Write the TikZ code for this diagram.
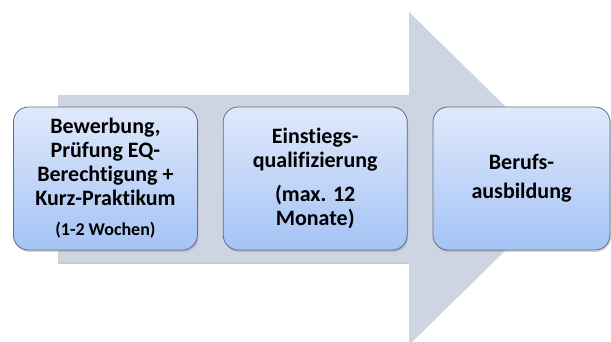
\documentclass[tikz,border=0pt]{standalone}
\usepackage{fontspec}
\setmainfont{Carlito}[Ligatures=NoCommon]
\usepackage{tikz}
\usetikzlibrary{positioning,shadows,calc}
\definecolor{arrowgrey}{HTML}{CDD4E2}
\definecolor{boxtop}{HTML}{DFE9FB}
\definecolor{boxbottom}{HTML}{A5C3F5}
\definecolor{boxline}{HTML}{5F6F85}

\begin{document}
\begin{tikzpicture}[x=1pt,y=1pt,
    stepbox/.style={draw=boxline, line width=0.8pt, rounded corners=15pt,
                    top color=boxtop, bottom color=boxbottom,
                    minimum width=184pt, minimum height=143pt,
                    align=center, inner sep=2pt,
                    font=\fontsize{22}{24}\selectfont\bfseries,
                    drop shadow={opacity=0.35, shadow xshift=1pt, shadow yshift=-2pt}},
    node distance=25pt]
  \useasboundingbox (0,0) rectangle (611,342);
  % big background arrow
  \fill[black!35, opacity=0.6] (58,78) rectangle (409,82);   % shadow under body
  \fill[arrowgrey] (58,80) -- (409,80) -- (409,-3) -- (579,163.5)
        -- (409,330) -- (409,247) -- (58,247) -- cycle;
  % the three steps
  \node[stepbox, anchor=west] (bewerbung) at (13,163.5)
    {Bewerbung,\\Prüfung EQ-\\Berechtigung +\\Kurz-Praktikum\\[6pt]
     {\fontsize{18}{20}\selectfont (1-2 Wochen)}};
  \node[stepbox, right=of bewerbung] (eq)
    {Einstiegs-\\qualifizierung\\[10pt](max. 12\\Monate)};
  \node[stepbox, right=of eq, minimum width=177pt,
        font=\fontsize{22}{29}\selectfont\bfseries] (ausbildung)
    {Berufs-\\ausbildung};
\end{tikzpicture}
\end{document}
